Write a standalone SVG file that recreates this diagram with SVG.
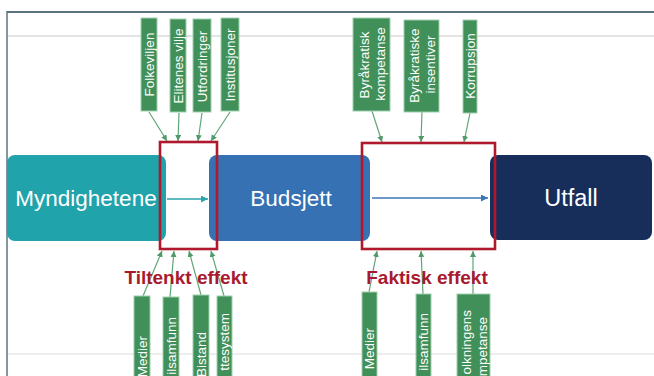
<svg xmlns="http://www.w3.org/2000/svg" width="654" height="376" viewBox="0 0 654 376">
<defs>
<marker id="ag" markerUnits="userSpaceOnUse" markerWidth="7" markerHeight="7" refX="6" refY="3" orient="auto"><path d="M0,0 L6,3 L0,6 z" fill="#4f9a68"/></marker>
<marker id="at" markerUnits="userSpaceOnUse" markerWidth="8" markerHeight="8" refX="7" refY="3.5" orient="auto"><path d="M0,0 L7,3.5 L0,7 z" fill="#2aa5ad"/></marker>
<marker id="ab" markerUnits="userSpaceOnUse" markerWidth="8" markerHeight="8" refX="7" refY="3.5" orient="auto"><path d="M0,0 L7,3.5 L0,7 z" fill="#3a76b6"/></marker>
</defs>
<style>
text{font-family:"Liberation Sans",Arial,sans-serif}
.g rect{fill:#41905a;stroke:#9fcfae;stroke-width:1}
.g text{fill:#fff;font-size:13.5px;text-anchor:middle;dominant-baseline:central}
.g text.e{text-anchor:end}
.c line{stroke:#5fa677;stroke-width:1.2;marker-end:url(#ag)}
.m text{fill:#fff;font-size:22.5px;text-anchor:middle}
.red{fill:none;stroke:#b0182d;stroke-width:2.6}
.lab{fill:#a8192e;font-weight:bold;font-size:19px;text-anchor:middle}
</style>
<rect width="654" height="376" fill="#fff"/>
<g id="frame">
<line x1="7" y1="12" x2="654" y2="12" stroke="#5b737e" stroke-width="2"/>
<line x1="7" y1="11" x2="7" y2="376" stroke="#5b737e" stroke-width="1.5"/>
<line x1="8" y1="36" x2="654" y2="36" stroke="#c8c8c8" stroke-width="1"/>
<line x1="8" y1="354" x2="654" y2="354" stroke="#dddddd" stroke-width="1"/>
</g>
<g id="connectors" class="c">
<line x1="149" y1="112" x2="167" y2="141"/>
<line x1="179" y1="113" x2="178" y2="141"/>
<line x1="202" y1="113" x2="198" y2="141"/>
<line x1="230" y1="112" x2="211" y2="141"/>
<line x1="372" y1="111" x2="382" y2="142"/>
<line x1="422" y1="112" x2="421" y2="142"/>
<line x1="470" y1="113" x2="464" y2="142"/>
<line x1="143" y1="296" x2="162" y2="251"/>
<line x1="170" y1="297" x2="174" y2="251"/>
<line x1="201" y1="295" x2="189" y2="251"/>
<line x1="224" y1="296" x2="211" y2="251"/>
<line x1="369" y1="292" x2="377" y2="251"/>
<line x1="423" y1="294" x2="421" y2="251"/>
<line x1="473" y1="294" x2="473" y2="251"/>
<line x1="167" y1="199" x2="208" y2="199" style="stroke:#2aa5ad;stroke-width:1.5;marker-end:url(#at)"/>
<line x1="372" y1="198" x2="488" y2="198" style="stroke:#3a76b6;stroke-width:1.5;marker-end:url(#ab)"/>
</g>
<g id="myndighetene" class="m"><rect x="7" y="155" width="159" height="86" rx="8" fill="#21a3ab"/><text x="86" y="206">Myndighetene</text></g>
<g id="budsjett" class="m"><rect x="209" y="155" width="161" height="86" rx="8" fill="#3571b3"/><text x="291" y="206">Budsjett</text></g>
<g id="utfall" class="m"><rect x="490" y="155" width="162" height="85" rx="8" fill="#172e5b"/><text x="571" y="206" style="font-size:23.5px">Utfall</text></g>
<g id="tiltenkt"><rect class="red" x="160" y="142" width="57" height="107"/><text class="lab" x="186" y="284">Tiltenkt effekt</text></g>
<g id="faktisk"><rect class="red" x="362" y="143" width="133" height="106"/><text class="lab" x="427" y="284">Faktisk effekt</text></g>
<g id="t1" class="g"><rect x="141" y="18" width="16" height="93"/><text transform="translate(149,64.5) rotate(-90)">Folkeviljen</text></g>
<g id="t2" class="g"><rect x="170" y="19" width="16" height="93"/><text transform="translate(178,66) rotate(-90)">Elitenes vilje</text></g>
<g id="t3" class="g"><rect x="193" y="19" width="18" height="93"/><text transform="translate(202,66.5) rotate(-90)">Utfordringer</text></g>
<g id="t4" class="g"><rect x="221" y="18" width="18" height="93"/><text transform="translate(230,65) rotate(-90)">Institusjoner</text></g>
<g id="t5" class="g"><rect x="353" y="18" width="37" height="93"/><text transform="translate(364,65) rotate(-90)">Byråkratisk</text><text transform="translate(380,64) rotate(-90)">kompetanse</text></g>
<g id="t6" class="g"><rect x="404" y="20" width="35" height="92"/><text transform="translate(414,65.5) rotate(-90)">Byråkratiske</text><text transform="translate(430,64.5) rotate(-90)">insentiver</text></g>
<g id="t7" class="g"><rect x="463" y="20" width="14" height="93"/><text transform="translate(470,66) rotate(-90)">Korrupsjon</text></g>
<g id="b1" class="g"><rect x="134" y="296" width="16" height="90"/><text class="e" transform="translate(142,336) rotate(-90)">Medier</text></g>
<g id="b2" class="g"><rect x="163" y="297" width="16" height="90"/><text class="e" transform="translate(171,317) rotate(-90)">ilsamfunn</text></g>
<g id="b3" class="g"><rect x="193" y="295" width="16" height="90"/><text class="e" transform="translate(201,332) rotate(-90)">Bistand</text></g>
<g id="b4" class="g"><rect x="217" y="296" width="15" height="90"/><text class="e" transform="translate(224.5,313) rotate(-90)">ttesystem</text></g>
<g id="b5" class="g"><rect x="362" y="292" width="15" height="90"/><text class="e" transform="translate(369.5,328) rotate(-90)">Medier</text></g>
<g id="b6" class="g"><rect x="416" y="294" width="15" height="90"/><text class="e" transform="translate(423.5,313) rotate(-90)">ilsamfunn</text></g>
<g id="b7" class="g"><rect x="457" y="294" width="33" height="90"/><text class="e" transform="translate(466,310) rotate(-90)">olkningens</text><text class="e" transform="translate(482,317) rotate(-90)">mpetanse</text></g>
</svg>
